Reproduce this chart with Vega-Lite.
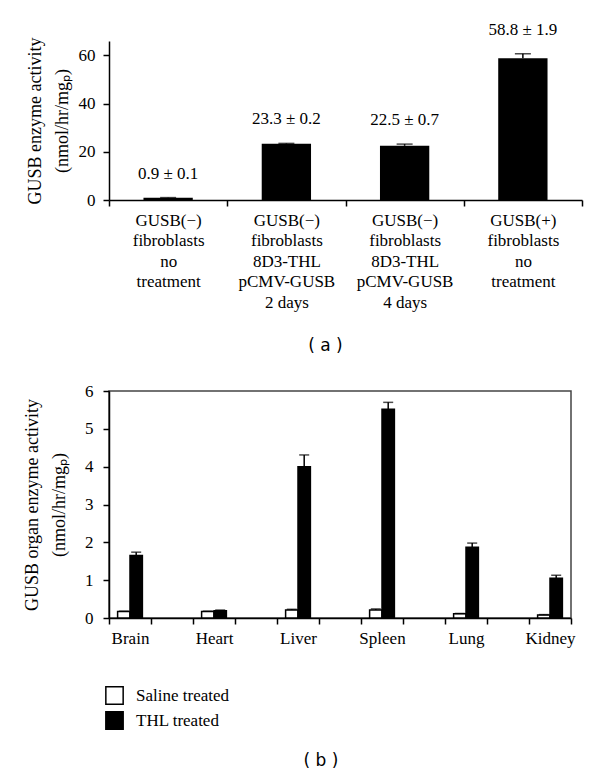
{
  "$schema": "https://vega.github.io/schema/vega-lite/v6.json",
  "background": "white",
  "padding": {"left": 22, "top": 20, "right": 10, "bottom": 5},
  "spacing": 27,
  "config": {
    "font": "Liberation Serif",
    "view": {"stroke": null},
    "axis": {
      "labelFont": "Liberation Serif", "labelFontSize": 17, "labelColor": "black",
      "titleFont": "Liberation Serif", "titleFontSize": 18, "titleFontWeight": "normal", "titleColor": "black",
      "domainColor": "black", "tickColor": "black", "grid": false, "domainWidth": 1.5, "tickWidth": 1.5,
      "tickSize": 6
    },
    "title": {"font": "DejaVu Sans", "fontSize": 17, "fontWeight": "normal", "color": "black"}
  },
  "vconcat": [
    {
      "width": 473,
      "height": 159,
      "title": {"text": "( a )", "orient": "bottom", "anchor": "middle", "offset": 28, "dx": -20},
      "data": {"values": [
        {"group": "GUSB(−)\nfibroblasts\nno\ntreatment", "mean": 0.9, "err": 0.1, "upper": 1.0, "label": "0.9 ± 0.1"},
        {"group": "GUSB(−)\nfibroblasts\n8D3-THL\npCMV-GUSB\n2 days", "mean": 23.3, "err": 0.2, "upper": 23.5, "label": "23.3 ± 0.2"},
        {"group": "GUSB(−)\nfibroblasts\n8D3-THL\npCMV-GUSB\n4 days", "mean": 22.5, "err": 0.7, "upper": 23.2, "label": "22.5 ± 0.7"},
        {"group": "GUSB(+)\nfibroblasts\nno\ntreatment", "mean": 58.8, "err": 1.9, "upper": 60.7, "label": "58.8 ± 1.9"}
      ]},
      "encoding": {
        "x": {"field": "group", "type": "nominal", "sort": null,
          "scale": {"paddingInner": 0, "paddingOuter": 0},
          "axis": {"title": null, "labelAngle": 0, "tickBand": "extent", "labelExpr": "split(datum.label, '\\n')", "labelLineHeight": 20.5, "labelPadding": 6}}
      },
      "layer": [
        {
          "mark": {"type": "bar", "color": "black", "width": {"band": 0.417}},
          "encoding": {
            "y": {"field": "mean", "type": "quantitative", "scale": {"domain": [0, 66], "nice": false},
              "axis": {"values": [0, 20, 40, 60], "tickCount": 8, "format": "d", "labelOverlap": false, "title": ["GUSB enzyme activity", "(nmol/hr/mgₚ)"], "titleLineHeight": 27, "labelPadding": 8, "titlePadding": 7}}
          }
        },
        {
          "mark": {"type": "rule", "color": "black", "strokeWidth": 1.5},
          "encoding": {"y": {"field": "mean", "type": "quantitative"}, "y2": {"field": "upper"}}
        },
        {
          "mark": {"type": "tick", "color": "black", "size": 16, "thickness": 1.5},
          "encoding": {"y": {"field": "upper", "type": "quantitative"}}
        },
        {
          "mark": {"type": "text", "baseline": "middle", "dy": -24, "fontSize": 17, "font": "Liberation Serif", "color": "black"},
          "encoding": {"y": {"field": "upper", "type": "quantitative"}, "text": {"field": "label"}}
        }
      ]
    },
    {
      "width": 462,
      "height": 227,
      "view": {"stroke": "#444", "strokeWidth": 1.5},
      "title": {"text": "( b )", "orient": "bottom", "anchor": "middle", "offset": 107, "dx": -19},
      "data": {"values": [
        {"organ": "Brain", "treatment": "Saline treated", "mean": 0.17, "upper": 0.18},
        {"organ": "Brain", "treatment": "THL treated", "mean": 1.65, "upper": 1.74},
        {"organ": "Heart", "treatment": "Saline treated", "mean": 0.17, "upper": 0.18},
        {"organ": "Heart", "treatment": "THL treated", "mean": 0.19, "upper": 0.21},
        {"organ": "Liver", "treatment": "Saline treated", "mean": 0.21, "upper": 0.23},
        {"organ": "Liver", "treatment": "THL treated", "mean": 4.0, "upper": 4.31},
        {"organ": "Spleen", "treatment": "Saline treated", "mean": 0.21, "upper": 0.24},
        {"organ": "Spleen", "treatment": "THL treated", "mean": 5.52, "upper": 5.7},
        {"organ": "Lung", "treatment": "Saline treated", "mean": 0.11, "upper": 0.12},
        {"organ": "Lung", "treatment": "THL treated", "mean": 1.87, "upper": 1.98},
        {"organ": "Kidney", "treatment": "Saline treated", "mean": 0.08, "upper": 0.09},
        {"organ": "Kidney", "treatment": "THL treated", "mean": 1.05, "upper": 1.13}
      ]},
      "encoding": {
        "x": {"field": "organ", "type": "nominal",
          "scale": {"domain": ["Brain", " ", "Heart", "  ", "Liver", "   ", "Spleen", "    ", "Lung", "     ", "Kidney"], "paddingInner": 0, "paddingOuter": 0},
          "axis": {"title": null, "labelAngle": 0, "tickBand": "extent", "labelPadding": 6}},
        "xOffset": {"field": "treatment", "type": "nominal",
          "scale": {"domain": ["Saline treated", "THL treated"], "paddingInner": 0, "paddingOuter": 0.695}}
      },
      "layer": [
        {
          "mark": {"type": "bar", "stroke": "black", "strokeWidth": 1.5},
          "encoding": {
            "y": {"field": "mean", "type": "quantitative", "scale": {"domain": [0, 6], "nice": false},
              "axis": {"values": [0, 1, 2, 3, 4, 5, 6], "tickCount": 10, "format": "d", "labelOverlap": false, "title": ["GUSB organ enzyme activity", "(nmol/hr/mgₚ)"], "titleLineHeight": 27, "labelPadding": 10, "titlePadding": 16}},
            "fill": {"field": "treatment", "type": "nominal",
              "scale": {"domain": ["Saline treated", "THL treated"], "range": ["white", "black"]},
              "legend": {"title": null, "orient": "none", "legendX": -4, "legendY": 645, "symbolType": "square", "symbolSize": 300,
                "symbolStrokeColor": "black", "symbolStrokeWidth": 1.5, "labelFont": "Liberation Serif", "labelFontSize": 17,
                "labelColor": "black", "labelOffset": 12, "rowPadding": 0, "padding": 0}}
          }
        },
        {
          "mark": {"type": "rule", "color": "black", "strokeWidth": 1.5},
          "encoding": {"y": {"field": "mean", "type": "quantitative"}, "y2": {"field": "upper"}}
        },
        {
          "mark": {"type": "tick", "color": "black", "size": 10, "thickness": 1.5},
          "encoding": {"y": {"field": "upper", "type": "quantitative"}}
        }
      ]
    }
  ]
}
